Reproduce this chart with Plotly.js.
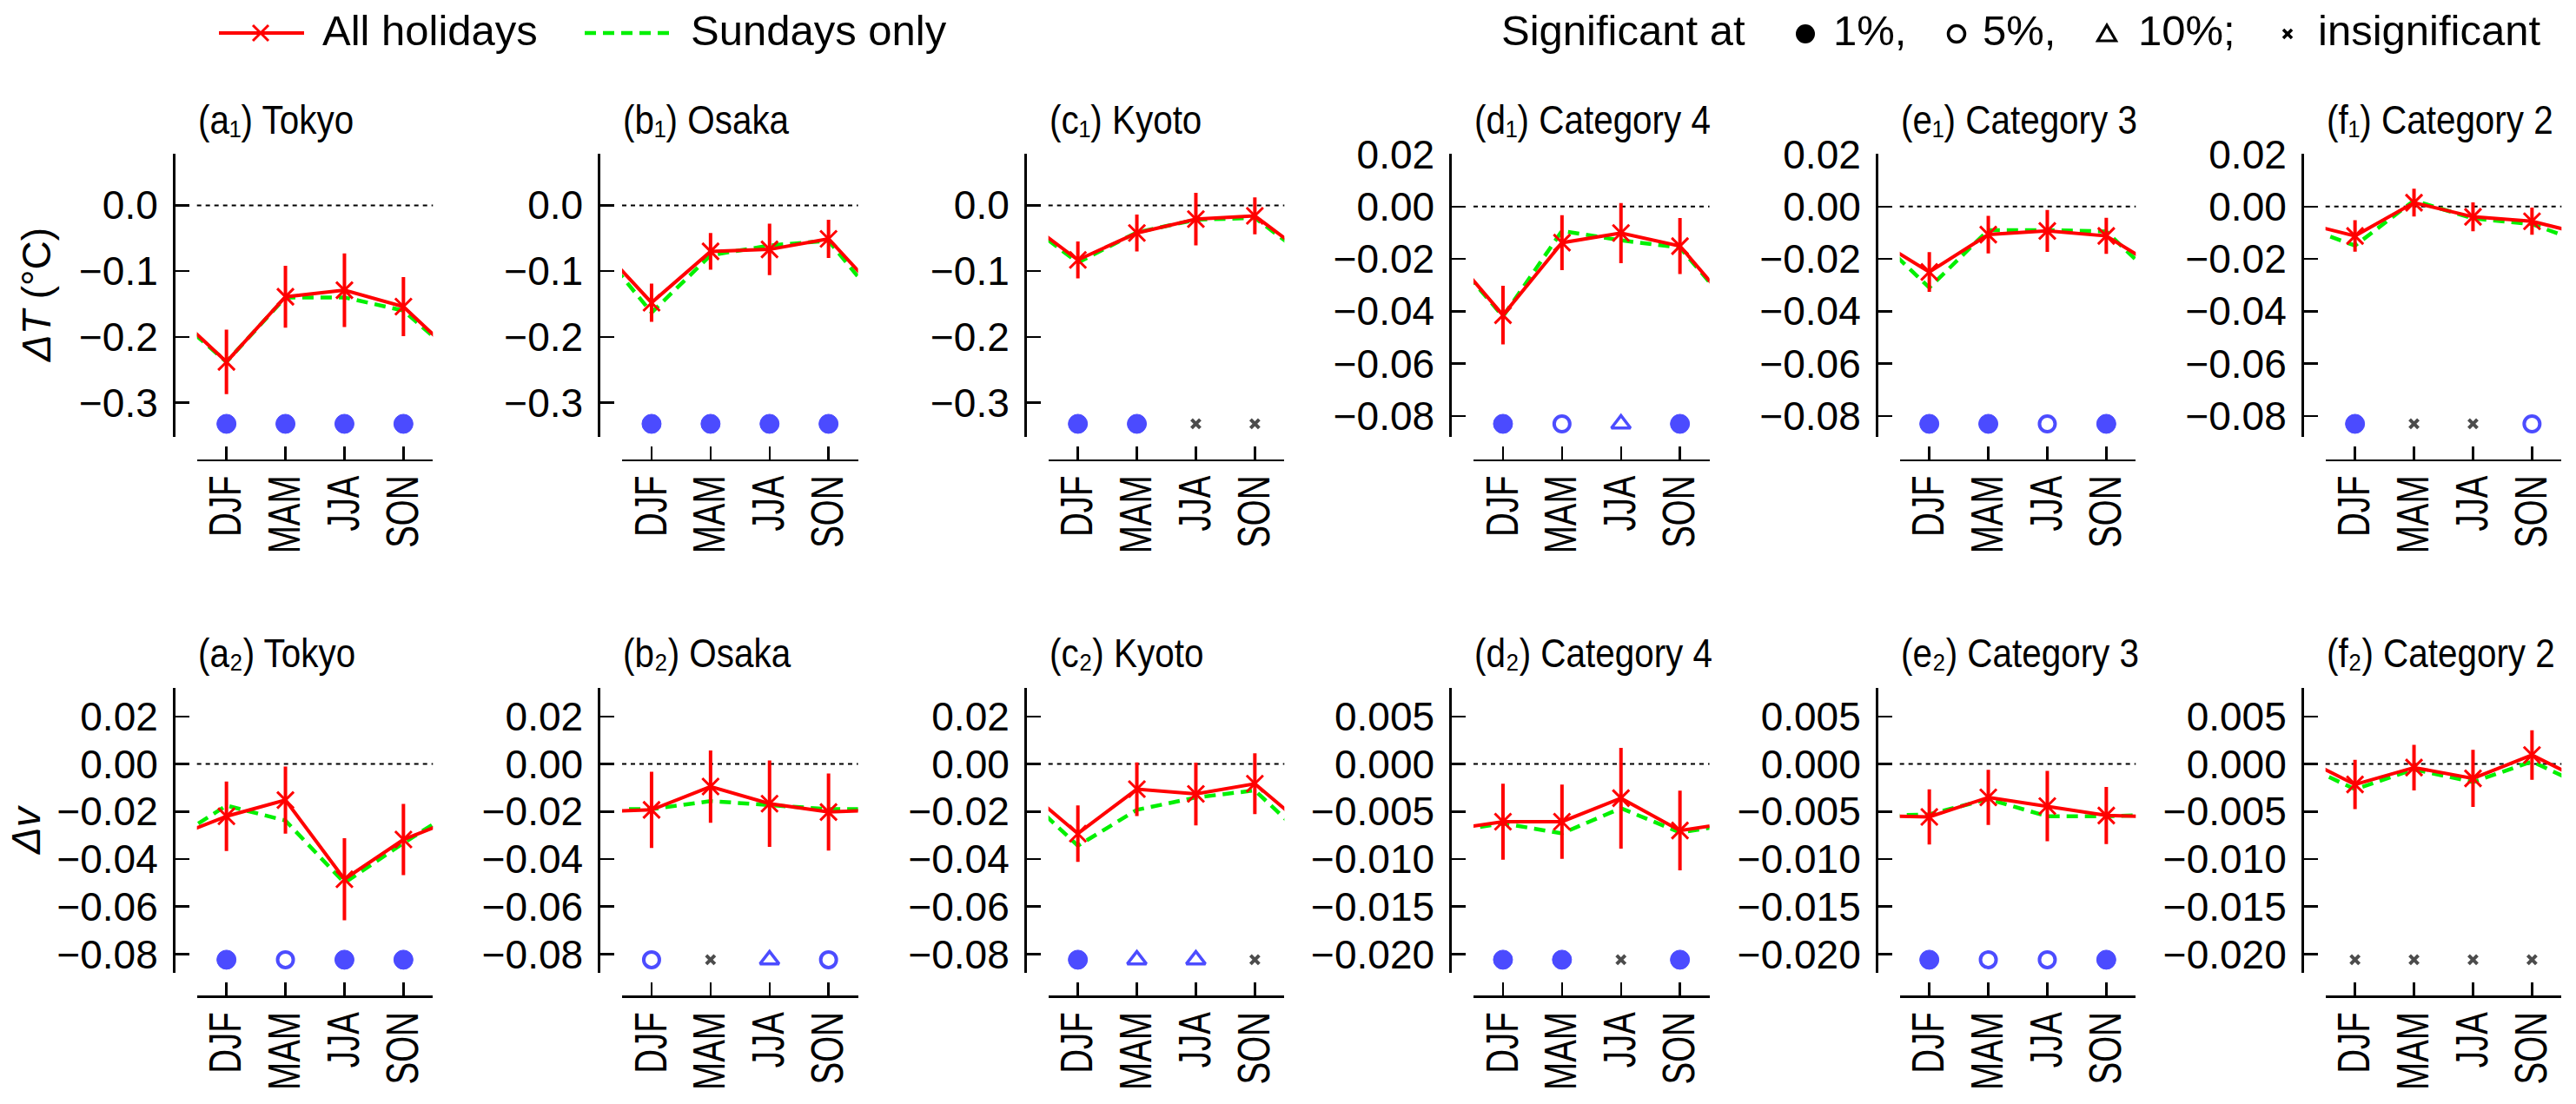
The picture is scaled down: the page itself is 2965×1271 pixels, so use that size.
<!DOCTYPE html>
<html><head><meta charset="utf-8">
<script src="https://cdn.plot.ly/plotly-3.0.1.min.js"></script>
<style>html,body{margin:0;padding:0;background:#fff}</style>
</head><body><div id="chart" style="width:2965px;height:1271px"></div>
<script>
// ---------------- data ----------------
const seasons = ['DJF','MAM','JJA','SON'];
const regions = ['Tokyo','Osaka','Kyoto','Category 4','Category 3','Category 2'];
const letters = ['a','b','c','d','e','f'];
const rowSubs = ['₁','₂'];

// ΔT (°C)
const dT_all = [
  [-0.238,-0.139,-0.129,-0.154],
  [-0.148,-0.070,-0.067,-0.051],
  [-0.083,-0.042,-0.021,-0.016],
  [-0.0415,-0.0138,-0.0101,-0.0151],
  [-0.0250,-0.0107,-0.0093,-0.0112],
  [-0.0112,0.0015,-0.0039,-0.0056]
];
const dT_sun = [
  [-0.238,-0.140,-0.140,-0.160],
  [-0.163,-0.076,-0.061,-0.054],
  [-0.087,-0.041,-0.022,-0.019],
  [-0.042,-0.0093,-0.0129,-0.0157],
  [-0.031,-0.009,-0.009,-0.0095],
  [-0.0149,0.0023,-0.0045,-0.0067]
];
const dT_err = [
  [0.049,0.047,0.056,0.045],
  [0.029,0.028,0.039,0.029],
  [0.028,0.028,0.040,0.028],
  [0.0112,0.0105,0.0115,0.0107],
  [0.0076,0.0072,0.0080,0.0069],
  [0.0060,0.0053,0.0055,0.0052]
];
// significance: 1 = 1%, 5 = 5%, 10 = 10%, 0 = insignificant
const dT_sig = [[1,1,1,1],[1,1,1,1],[1,1,0,0],[1,5,10,1],[1,1,5,1],[1,0,0,5]];

// Δv
const dv_all = [
  [-0.0220,-0.0152,-0.0485,-0.0318],
  [-0.0193,-0.0095,-0.0167,-0.0202],
  [-0.0293,-0.0106,-0.0126,-0.0083],
  [-0.00607,-0.00607,-0.0036,-0.0070],
  [-0.00557,-0.00352,-0.00443,-0.00542],
  [-0.00216,-0.00038,-0.00152,0.00094]
];
const dv_sun = [
  [-0.0175,-0.0238,-0.0500,-0.0333],
  [-0.0190,-0.0156,-0.0171,-0.0190],
  [-0.0344,-0.0193,-0.0141,-0.0111],
  [-0.00625,-0.0073,-0.00466,-0.0072],
  [-0.0053,-0.0037,-0.0055,-0.0055],
  [-0.00266,-0.00057,-0.0019,0.00026]
];
const dv_err = [
  [0.0146,0.0141,0.0173,0.0150],
  [0.0160,0.0152,0.0182,0.0162],
  [0.0119,0.0113,0.0132,0.0128],
  [0.0040,0.0039,0.0053,0.0042],
  [0.0029,0.0029,0.0037,0.0030],
  [0.0026,0.0024,0.0030,0.0026]
];
const dv_sig = [[1,5,1,1],[5,0,10,5],[1,10,10,0],[1,1,0,1],[1,5,5,1],[0,0,0,0]];

// axis ticks
const ticksT_city = [0, -0.1, -0.2, -0.3];
const ticksT_cat  = [0.02, 0, -0.02, -0.04, -0.06, -0.08];
const ticksV_city = [0.02, 0, -0.02, -0.04, -0.06, -0.08];
const ticksV_cat  = [0.005, 0, -0.005, -0.010, -0.015, -0.020];

// legend texts
const seriesNames = ['All holidays', 'Sundays only'];
const sigHeading = 'Significant at';
const sigLabels = ['1%,', '5%,', '10%;', 'insignificant'];

// ---------------- styling / geometry ----------------
const W = 2965, H = 1271;
const FONT = 'Liberation Sans, Arial, Helvetica, sans-serif';
const RED = '#ff0000', GREEN = '#00f000', BLUE = '#0000ff';
const colAxisX = [200, 689.3, 1180, 1669.3, 2160, 2650];
const plotOff = 26.7, plotW = 271.6;
const rowGeom = [
  {top:177, bottom:502.6, xline:529.6, sigF:0.045, titleBottom:165},
  {top:792.3, bottom:1120.3, xline:1147.3, sigF:0.047, titleBottom:779}
];
const rowSpec = [
  {all:dT_all, sun:dT_sun, err:dT_err, sig:dT_sig,
   cityRange:[-0.3515,0.0784], catRange:[-0.0879,0.0202],
   cityTicks:ticksT_city, catTicks:ticksT_cat, cityFmt:'.1f', catFmt:'.2f'},
  {all:dv_all, sun:dv_sun, err:dv_err, sig:dv_sig,
   cityRange:[-0.088,0.0319], catRange:[-0.022,0.00797],
   cityTicks:ticksV_city, catTicks:ticksV_cat, cityFmt:'.2f', catFmt:'.3f'}
];

function sigSym(c){ return c===1?'circle':c===5?'circle-open':c===10?'triangle-up-open':'x-thin-open'; }
function sigSize(c){ return c===1?22:c===5?18:c===10?19:10; }
function sigLw(c){ return c===1?1:c===5?4:c===10?3.5:4; }
function sigCol(c){ return c===0?'#000':BLUE; }
function wrap(v){ return [v[3], v[0], v[1], v[2], v[3], v[0]]; }
const px = v => v/W, py = v => 1 - v/H;

const traces = [];
const layout = {
  width: W, height: H, margin:{l:0,r:0,t:0,b:0},
  paper_bgcolor:'#fff', plot_bgcolor:'rgba(0,0,0,0)',
  font:{family:FONT, color:'#000'},
  showlegend:false, annotations:[], shapes:[]
};

for (let r = 0; r < 2; r++) {
  const g = rowGeom[r], s = rowSpec[r];
  for (let c = 0; c < 6; c++) {
    const k = r*6 + c + 1;
    const xid = k===1 ? 'x' : 'x'+k, yid = k===1 ? 'y' : 'y'+k;
    const isCity = c < 3;
    const yr = isCity ? s.cityRange : s.catRange;
    const ax = colAxisX[c];
    layout[k===1?'xaxis':'xaxis'+k] = {
      domain:[px(ax+plotOff), px(ax+plotOff+plotW)], anchor:'free', position:py(g.xline),
      range:[0.5,4.5], tickmode:'array', tickvals:[1,2,3,4], ticktext:seasons,
      showline:true, linecolor:'#000', linewidth:2.5,
      ticks:'inside', ticklen:15, tickwidth:2.5, tickcolor:'#000',
      tickangle:-90, tickfont:{size:51, family:FONT, color:'#000'}, ticklabelstandoff:-4,
      showgrid:false, zeroline:false, fixedrange:true
    };
    layout[k===1?'yaxis':'yaxis'+k] = {
      domain:[py(g.bottom), py(g.top)], anchor:'free', position:px(ax),
      range:yr, tickmode:'array', tickvals:isCity?s.cityTicks:s.catTicks,
      tickformat:isCity?s.cityFmt:s.catFmt,
      showline:true, linecolor:'#000', linewidth:2.5,
      ticks:'inside', ticklen:16, tickwidth:2.5, tickcolor:'#000',
      tickfont:{size:46, family:FONT, color:'#000'}, ticklabelstandoff:8,
      showgrid:false, zeroline:false, fixedrange:true
    };
    // zero reference line
    layout.shapes.push({type:'line', xref:xid+' domain', x0:0, x1:1, yref:yid, y0:0, y1:0,
      line:{color:'#000', width:2, dash:'5px,5px'}, layer:'below'});
    const xs = [0,1,2,3,4,5];
    traces.push({type:'scatter', mode:'lines', x:xs, y:wrap(s.sun[c]), xaxis:xid, yaxis:yid,
      line:{color:GREEN, width:4.5, dash:'13px,8px'}, hoverinfo:'skip'});
    traces.push({type:'scatter', mode:'lines', x:xs, y:wrap(s.all[c]), xaxis:xid, yaxis:yid,
      line:{color:RED, width:4}, hoverinfo:'skip'});
    traces.push({type:'scatter', mode:'markers', x:[1,2,3,4], y:s.all[c], xaxis:xid, yaxis:yid,
      marker:{symbol:'x-thin-open', size:19, color:RED, line:{color:RED, width:3}},
      error_y:{type:'data', array:s.err[c], visible:true, color:RED, thickness:4, width:0},
      hoverinfo:'skip'});
    const sy = yr[0] + g.sigF*(yr[1]-yr[0]);
    const codes = s.sig[c];
    traces.push({type:'scatter', mode:'markers', x:[1,2,3,4], y:codes.map(()=>sy),
      xaxis:xid, yaxis:yid, cliponaxis:false,
      marker:{symbol:codes.map(sigSym), size:codes.map(sigSize), color:codes.map(sigCol),
        line:{color:codes.map(sigCol), width:codes.map(sigLw)}},
      hoverinfo:'skip'});
    // panel title
    layout.annotations.push({xref:'paper', yref:'paper', x:px(ax+plotOff), xanchor:'left',
      y:py(g.titleBottom), yanchor:'bottom', showarrow:false, borderpad:0,
      text:'('+letters[c]+rowSubs[r]+') '+regions[c],
      font:{size:47, family:FONT, color:'#000'}});
  }
}
// y-axis labels
layout.annotations.push({xref:'paper', yref:'paper', x:px(42), y:py(340), xanchor:'center', yanchor:'middle',
  textangle:-90, showarrow:false, text:'<i>ΔT</i> (°C)', font:{size:46, family:FONT, color:'#000'}});
layout.annotations.push({xref:'paper', yref:'paper', x:px(30), y:py(955), xanchor:'center', yanchor:'middle',
  textangle:-90, showarrow:false, text:'<i>Δv</i>', font:{size:46, family:FONT, color:'#000'}});

// ---------------- legend (drawn in paper space) ----------------
const LEG_Y = 38, LEG_TY = 35, LEG_FONT = 49;
function legText(x, t) {
  layout.annotations.push({xref:'paper', yref:'paper', x:px(x), y:py(LEG_TY), xanchor:'left', yanchor:'middle',
    showarrow:false, borderpad:0, text:t, font:{size:LEG_FONT, family:FONT, color:'#000'}});
}
function pixShape(type, cx, cy, extra) {
  return Object.assign({type:type, xref:'paper', yref:'paper', xsizemode:'pixel', ysizemode:'pixel',
    xanchor:px(cx), yanchor:py(cy)}, extra);
}
// All holidays
layout.shapes.push({type:'line', xref:'paper', yref:'paper', x0:px(252), x1:px(350), y0:py(LEG_Y), y1:py(LEG_Y),
  line:{color:RED, width:4}});
layout.shapes.push(pixShape('line', 300, LEG_Y, {x0:-9, x1:9, y0:-9, y1:9, line:{color:RED, width:3}}));
layout.shapes.push(pixShape('line', 300, LEG_Y, {x0:-9, x1:9, y0:9, y1:-9, line:{color:RED, width:3}}));
legText(370, seriesNames[0]);
// Sundays only
layout.shapes.push({type:'line', xref:'paper', yref:'paper', x0:px(673), x1:px(772), y0:py(LEG_Y), y1:py(LEG_Y),
  line:{color:GREEN, width:4.5, dash:'13px,8px'}});
legText(794, seriesNames[1]);
// significance key
legText(1727, sigHeading);
const SIG_Y = 39;
layout.shapes.push(pixShape('circle', 2078, SIG_Y, {x0:-11, x1:11, y0:-11, y1:11, fillcolor:'#000', line:{width:0}}));
legText(2109, sigLabels[0]);
layout.shapes.push(pixShape('circle', 2252, SIG_Y, {x0:-9.5, x1:9.5, y0:-9.5, y1:9.5, fillcolor:'rgba(0,0,0,0)', line:{color:'#000', width:3.5}}));
legText(2281, sigLabels[1]);
layout.shapes.push(pixShape('path', 2425, SIG_Y, {path:'M -10.5 -8 L 10.5 -8 L 0 10 Z', fillcolor:'rgba(0,0,0,0)', line:{color:'#000', width:3.2}}));
legText(2460, sigLabels[2]);
layout.shapes.push(pixShape('line', 2633, SIG_Y, {x0:-5, x1:5, y0:-5, y1:5, line:{color:'#000', width:3.5}}));
layout.shapes.push(pixShape('line', 2633, SIG_Y, {x0:-5, x1:5, y0:5, y1:-5, line:{color:'#000', width:3.5}}));
legText(2667, sigLabels[3]);

function adjust(el, sx, sy, fx, fy) {
  const bb = el.getBBox();
  const ox = bb.x + fx*bb.width, oy = bb.y + fy*bb.height;
  const t = el.getAttribute('transform') || '';
  el.setAttribute('transform', t + ' translate(' + ox + ',' + oy + ') scale(' + sx + ',' + sy + ') translate(' + (-ox) + ',' + (-oy) + ')');
}

Plotly.newPlot('chart', traces, layout, {staticPlot:true, displayModeBar:false}).then(() => {
  for (let k = 1; k <= 12; k++) {
    const xid = k===1 ? 'x' : 'x'+k;
    document.querySelectorAll('g.' + xid + 'tick text').forEach(el => adjust(el, 0.754, 1, 1, 0.5));
    const a = document.querySelector('g.annotation[data-index="' + (k-1) + '"] text');
    if (a) adjust(a, 0.86, 1, 0, 1);
  }
  document.querySelectorAll('#chart tspan').forEach(el => { if (!el.textContent) el.remove(); });
  document.querySelectorAll('#chart text').forEach(el => { if (!el.textContent.trim()) el.remove(); });
});
</script></body></html>
